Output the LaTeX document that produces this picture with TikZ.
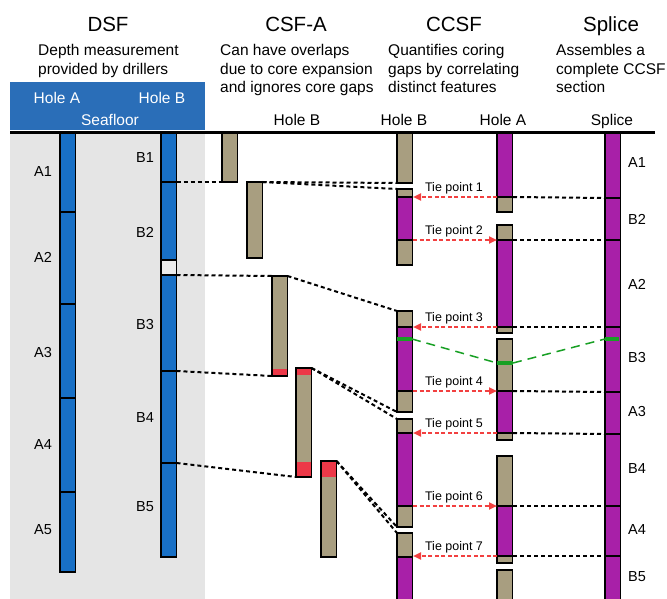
\documentclass[tikz,border=0pt]{standalone}
\usepackage{fontspec}
\setmainfont{Liberation Sans}
\usetikzlibrary{arrows.meta}
\definecolor{hdrblue}{RGB}{42,110,184}
\definecolor{colblue}{RGB}{24,112,198}
\definecolor{coretan}{RGB}{168,158,128}
\definecolor{coremag}{RGB}{168,32,168}
\definecolor{bggray}{RGB}{229,229,229}
\definecolor{tiered}{RGB}{242,64,64}
\definecolor{markred}{RGB}{236,56,72}
\definecolor{grn}{RGB}{24,160,36}
% name, x-left, top, bottom, fill
\newcommand{\mkcore}[5]{\node[corebox, fill=#5, minimum height={(#4)-(#3)}] (#1) at ({#2+7.75},{((#3)+(#4))/2}) {};}
% x-left, top, bottom, colour
\newcommand{\segfill}[4]{\fill[#4] ({#1+0.95},#2) rectangle ({#1+15.5-0.95},#3);}
\newcommand{\cutline}[2]{\draw[line width=1.1pt] (#1,#2) -- ({#1+15.5},#2);}
\begin{document}
\begin{tikzpicture}[x=1pt,y=-1pt,
  corebox/.style={draw=black, line width=1.9pt, minimum width=15.5pt, inner sep=0pt, outer sep=0pt, rectangle},
  title/.style={font=\fontsize{20.5}{23}\selectfont, inner sep=0pt, anchor=base},
  sub/.style={font=\fontsize{15.5}{18.5}\selectfont, inner sep=0pt, anchor=base west},
  hdr/.style={font=\fontsize{15.5}{18}\selectfont, inner sep=0pt, anchor=base},
  lab/.style={font=\fontsize{14.5}{16}\selectfont, inner sep=0pt, anchor=center},
  tielab/.style={font=\fontsize{12.5}{14}\selectfont, inner sep=0pt, anchor=base},
  blk/.style={draw=black, line width=2pt, dash pattern=on 4pt off 3pt},
  tiearrow/.style={draw=tiered, line width=2pt, dash pattern=on 4pt off 2.5pt, -{Triangle[length=8pt,width=7pt]}},
  gdash/.style={draw=grn, line width=1.5pt, dash pattern=on 9pt off 6pt},
  gmark/.style={draw=grn, line width=3.5pt}]
\clip (0,0) rectangle (667,599);
\fill[white] (0,0) rectangle (667,599);

% ---------- titles ----------
\node[title] (tdsf) at (108,32) {DSF};
\node[title] (tcsfa) at (296,32) {CSF-A};
\node[title] (tccsf) at (454,32) {CCSF};
\node[title] (tspl) at (611,32) {Splice};

\node[sub] (s11) at (38,56) {Depth measurement};
\node[sub] (s12) at (38,74.5) {provided by drillers};
\node[sub] (s21) at (220,56) {Can have overlaps};
\node[sub] (s22) at (220,74.5) {due to core expansion};
\node[sub] (s23) at (220,93) {and ignores core gaps};
\node[sub] (s31) at (388,56) {Quantifies coring};
\node[sub] (s32) at (388,74.5) {gaps by correlating};
\node[sub] (s33) at (388,93) {distinct features};
\node[sub] (s41) at (556,56) {Assembles a};
\node[sub] (s42) at (556,74.5) {complete CCSF};
\node[sub] (s43) at (556,93) {section};

% ---------- DSF header box and background ----------
\fill[hdrblue] (10,82) rectangle (205,130);
\fill[bggray] (10,133) rectangle (205,599);
\node[hdr, text=white] (hA) at (57,104) {Hole A};
\node[hdr, text=white] (hB) at (162,104) {Hole B};
\node[hdr, text=white] (sfl) at (110,126) {Seafloor};

\node[hdr] (h2) at (297,126) {Hole B};
\node[hdr] (h3) at (404,126) {Hole B};
\node[hdr] (h4) at (503,126) {Hole A};
\node[hdr] (h5) at (612,126) {Splice};

% ---------- DSF columns ----------
\mkcore{a1}{60}{133}{212}{colblue}
\mkcore{a2}{60}{212}{304}{colblue}
\mkcore{a3}{60}{304}{398}{colblue}
\mkcore{a4}{60}{398}{492}{colblue}
\mkcore{a5}{60}{492}{572}{colblue}
\mkcore{b1}{161}{133}{182}{colblue}
\mkcore{b2}{161}{182}{275}{colblue}
\segfill{161}{260}{274}{white!92!black}
\cutline{161}{260}
\mkcore{b3}{161}{275}{371}{colblue}
\mkcore{b4}{161}{371}{463}{colblue}
\mkcore{b5}{161}{463}{557}{colblue}

\node[lab] (la1) at (43,172) {A1};
\node[lab] (la2) at (43,257) {A2};
\node[lab] (la3) at (43,353) {A3};
\node[lab] (la4) at (43,445) {A4};
\node[lab] (la5) at (43,530) {A5};
\node[lab] (lb1) at (145,158) {B1};
\node[lab] (lb2) at (145,232) {B2};
\node[lab] (lb3) at (145,325) {B3};
\node[lab] (lb4) at (145,418) {B4};
\node[lab] (lb5) at (145,507) {B5};

% ---------- CSF-A cores ----------
\mkcore{ca1}{222}{133}{182}{coretan}
\mkcore{ca2}{247}{182}{258}{coretan}
\mkcore{ca3}{272}{276}{376}{coretan}
\segfill{272}{369}{375}{markred}
\mkcore{ca4}{296}{368}{477}{coretan}
\segfill{296}{369}{375}{markred}
\segfill{296}{462}{476}{markred}
\mkcore{ca5}{321}{461}{557}{coretan}
\segfill{321}{462}{477}{markred}

% ---------- CCSF Hole B ----------
\mkcore{hb1}{397}{133}{183}{coretan}
\mkcore{hb2}{397}{189}{265}{coretan}
\segfill{397}{197}{240}{coremag}
\cutline{397}{197}\cutline{397}{240}
\mkcore{hb3}{397}{311}{412}{coretan}
\segfill{397}{327}{391}{coremag}
\cutline{397}{327}\cutline{397}{391}
\mkcore{hb4}{397}{419}{527}{coretan}
\segfill{397}{433}{506}{coremag}
\cutline{397}{433}\cutline{397}{506}
\mkcore{hb5}{397}{533}{610}{coretan}
\segfill{397}{557}{609}{coremag}
\cutline{397}{557}

% ---------- CCSF Hole A ----------
\mkcore{ha1}{497}{133}{212}{coremag}
\segfill{497}{197}{211}{coretan}
\cutline{497}{197}
\mkcore{ha2}{497}{225}{333}{coretan}
\segfill{497}{240}{327}{coremag}
\cutline{497}{240}\cutline{497}{327}
\mkcore{ha3}{497}{339}{440}{coretan}
\segfill{497}{391}{433}{coremag}
\cutline{497}{391}\cutline{497}{433}
\mkcore{ha4}{497}{456}{563}{coretan}
\segfill{497}{506}{556}{coremag}
\cutline{497}{506}\cutline{497}{556}
\mkcore{ha5}{497}{570}{610}{coretan}

% ---------- Splice ----------
\mkcore{sp1}{605}{133}{198}{coremag}
\mkcore{sp2}{605}{198}{240}{coremag}
\mkcore{sp3}{605}{240}{327}{coremag}
\mkcore{sp4}{605}{327}{392}{coremag}
\mkcore{sp5}{605}{392}{434}{coremag}
\mkcore{sp6}{605}{434}{506}{coremag}
\mkcore{sp7}{605}{506}{556}{coremag}
\mkcore{sp8}{605}{556}{610}{coremag}

\node[lab] (ls1) at (637,163) {A1};
\node[lab] (ls2) at (637,219) {B2};
\node[lab] (ls3) at (637,284) {A2};
\node[lab] (ls4) at (637,358) {B3};
\node[lab] (ls5) at (637,412) {A3};
\node[lab] (ls6) at (637,469) {B4};
\node[lab] (ls7) at (637,530) {A4};
\node[lab] (ls8) at (637,577) {B5};

% ---------- seafloor line ----------
\draw[line width=3pt] (10,133) -- (655,133);

% ---------- DSF -> CSF-A -> CCSF dashed connectors ----------
\draw[blk] (b1.south east) -- (ca1.south west);
\draw[blk] (ca2.north east) -- (hb1.south west);
\draw[blk] (ca2.north east) -- (hb2.north west);
\draw[blk] (b3.north east) -- (ca3.north west);
\draw[blk] (ca3.north east) -- (hb3.north west);
\draw[blk] (b3.south east) -- (ca3.south west);
\draw[blk] (ca4.north east) -- (hb3.south west);
\draw[blk] (ca4.north east) -- (hb4.north west);
\draw[blk] (b4.south east) -- (ca4.south west);
\draw[blk] (ca5.north east) -- (hb4.south west);
\draw[blk] (ca5.north east) -- (hb5.north west);

% ---------- tie points ----------
\foreach \i/\yy in {1/197,2/240,3/327,4/391,5/433,6/506,7/556}{
  \coordinate (tb\i) at (413,\yy);
  \coordinate (ta\i) at (497,\yy);
  \coordinate (tr\i) at (513,\yy);
}
\draw[tiearrow] (ta1) -- (tb1);
\draw[tiearrow] (tb2) -- (ta2);
\draw[tiearrow] (ta3) -- (tb3);
\draw[tiearrow] (tb4) -- (ta4);
\draw[tiearrow] (ta5) -- (tb5);
\draw[tiearrow] (tb6) -- (ta6);
\draw[tiearrow] (ta7) -- (tb7);
\node[tielab] (tl1) at (454,191) {Tie point 1};
\node[tielab] (tl2) at (454,234) {Tie point 2};
\node[tielab] (tl3) at (454,321) {Tie point 3};
\node[tielab] (tl4) at (454,385) {Tie point 4};
\node[tielab] (tl5) at (454,427) {Tie point 5};
\node[tielab] (tl6) at (454,500) {Tie point 6};
\node[tielab] (tl7) at (454,550) {Tie point 7};

% ---------- Hole A -> Splice ----------
\draw[blk] (tr1) -- (sp2.north west);
\draw[blk] (tr2) -- (sp3.north west);
\draw[blk] (tr3) -- (sp4.north west);
\draw[blk] (tr4) -- (sp5.north west);
\draw[blk] (tr5) -- (sp6.north west);
\draw[blk] (tr6) -- (sp7.north west);
\draw[blk] (tr7) -- (sp8.north west);

% ---------- green correlation ----------
\coordinate (g1l) at (397,339);
\coordinate (g1r) at (412,339);
\coordinate (g2l) at (497,363);
\coordinate (g2r) at (513,363);
\coordinate (g3l) at (605,339);
\coordinate (g3r) at (619,339);
\draw[gdash] (g1r) -- (g2l);
\draw[gdash] (g2r) -- (g3l);
\draw[gmark] (g1l) -- (g1r);
\draw[gmark] (g2l) -- (g2r);
\draw[gmark] (g3l) -- (g3r);
\end{tikzpicture}
\end{document}
